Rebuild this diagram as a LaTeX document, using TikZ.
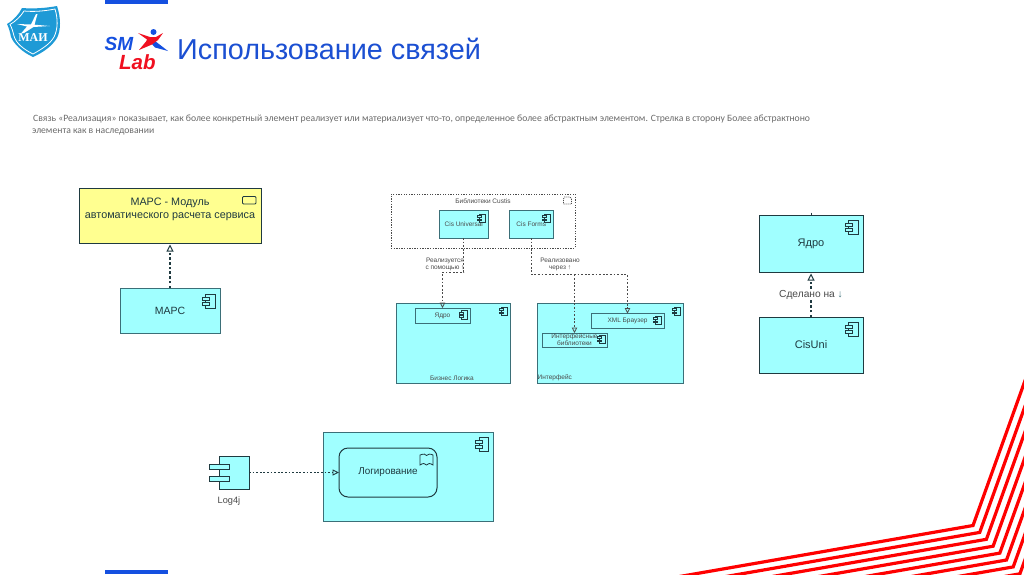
\documentclass[tikz,border=0pt]{standalone}
\usepackage{fontspec}
\setmainfont{Liberation Sans}
\newfontfamily\serifcap{Liberation Serif}
\newfontfamily\bodyfont{Carlito}
\usetikzlibrary{arrows.meta}
\definecolor{cyanfill}{HTML}{A0FFFF}
\definecolor{yellowfill}{HTML}{FFFF90}
\definecolor{edgeteal}{HTML}{3B6F78}
\definecolor{edgedark}{HTML}{1F3A40}
\definecolor{titleblue}{HTML}{1B4FD2}
\definecolor{barblue}{HTML}{1550E0}
\definecolor{logored}{HTML}{F01020}
\definecolor{stripered}{HTML}{FF0000}
\definecolor{shield}{HTML}{1E9AD6}
\definecolor{bodygray}{HTML}{6A6A6A}
\definecolor{labgray}{HTML}{4A4A4A}
\tikzset{
  box/.style={draw=edgeteal,fill=cyanfill,line width=1pt,inner sep=0pt,outer sep=0pt,align=center,font=\fontsize{10.5}{12}\selectfont,text=edgedark},
  darkbox/.style={box,draw=edgedark},
  smallbox/.style={box,font=\fontsize{6.5}{7.5}\selectfont,text=labgray},
  smalltext/.style={inner sep=0pt,align=center,font=\fontsize{6.5}{7.8}\selectfont,text=labgray},
  real/.style={draw=labgray,line width=1pt,dash pattern=on 1.8pt off 1.8pt,-{Triangle[open,length=5.5pt,width=5.5pt,line width=0.8pt,sep=0pt]}},
  bigreal/.style={draw=edgedark,line width=1.1pt,dash pattern=on 2.5pt off 2.2pt,shorten >=1.5pt,-{Triangle[open,length=7pt,width=7pt,line width=1pt,sep=0pt]}},
  compicon/.pic={
    \draw[edgedark,line width=0.8pt,fill=cyanfill] (-9.5,0) rectangle (0,14);
    \draw[edgedark,line width=0.8pt,fill=cyanfill] (-13,3) rectangle (-6,6);
    \draw[edgedark,line width=0.8pt,fill=cyanfill] (-13,8) rectangle (-6,11);
  }
}
\begin{document}
\begin{tikzpicture}[x=1pt,y=-1pt]
\useasboundingbox (0,0) rectangle (1024,574);
\fill[white] (0,0) rectangle (1024,574);
% red stripes
\begin{scope}
\clip (0,0) rectangle (1024,574);
\foreach \i in {0,...,9}{
  \draw[stripered,line width=3.2pt,miter limit=10,shift={(\i*6.7,\i*6.9)}] (625,586) -- (973,525.5) -- (1036,350);
}
\end{scope}
% bars
\fill[barblue] (105,0) rectangle (168,4);
\fill[barblue] (105,570) rectangle (168,574);
% MAI logo
\fill[shield] (7,24) .. controls (14,20) and (19,14) .. (22,8) .. controls (34,9) and (46,8) .. (57,6) .. controls (61,18) and (61,30) .. (57,38) .. controls (52,46) and (44,52) .. (33,57) .. controls (22,52) and (14,44) .. (11,37) .. controls (10,32) and (9,28) .. (7,24) -- cycle;
\draw[white,line width=0.8pt] (10,24.5) .. controls (16,21) and (21,16) .. (24,11) .. controls (34,12) and (45,11) .. (55,9) .. controls (58,19) and (58,29) .. (54,37) .. controls (50,44) and (42,49) .. (33,54) .. controls (23,49) and (16,43) .. (14,36) .. controls (13,32) and (12,28) .. (10,24.5) -- cycle;
\fill[white] (17,24) -- (31,24.5) -- (36,14) -- (37.5,14) -- (34.5,24.7) -- (50,26) -- (33.5,27) -- (24,33) -- (21,33.5) -- (27,26.5) -- cycle;
\node[inner sep=0pt,text=white,font=\serifcap\bfseries\fontsize{12}{12}\selectfont] (mai) at (33,38) {МАИ};
% SM Lab logo
\node[inner sep=0pt,anchor=base west,text=barblue,font=\bfseries\itshape\fontsize{19}{19}\selectfont] (sm) at (104.5,50) {SM};
\node[inner sep=0pt,anchor=base west,text=logored,font=\bfseries\itshape\fontsize{20.5}{20.5}\selectfont] (lab) at (119,69) {Lab};
\fill[barblue] (153.5,32) circle (3pt);
\fill[barblue] (151,43) -- (155,41) -- (168,51) -- (155,47.5) -- cycle;
\fill[logored] (138,33) -- (150,37) -- (156,37) -- (163,33) -- (158,40) -- (152,44.5) -- (139,50) -- (146,41.5) -- (147,39.5) -- cycle;
% title
\node[inner sep=0pt,anchor=base west,text=titleblue,font=\fontsize{28.8}{32}\selectfont] (title) at (177,59.5) {Использование связей};
% body text
\node[inner sep=0pt,anchor=base west,text=bodygray,font=\bodyfont\fontsize{9.67}{11}\selectfont] (body1) at (33,121) {Связь «Реализация» показывает, как более конкретный элемент реализует или материализует что-то, определенное более абстрактным элементом. Стрелка в сторону Более абстрактноно};
\node[inner sep=0pt,anchor=base west,text=bodygray,font=\bodyfont\fontsize{9.67}{11}\selectfont] (body2) at (32,133) {элемента как в наследовании};
% MARS
\node[darkbox,fill=yellowfill,minimum width=182pt,minimum height=55pt] (goal) at (170,215.5) {};
\node[inner sep=0pt,align=center,text=edgedark,font=\fontsize{10.8}{13}\selectfont] (goaltext) at (170,209.5) {МАРС - Модуль\\автоматического расчета сервиса};
\draw[edgedark,line width=0.9pt,rounded corners=1pt] (242.5,196.5) rectangle (256,204);
\node[box,minimum width=100pt,minimum height=45pt] (mars) at (170,310.5) {МАРС};
\pic at ([shift={(-5,6)}]mars.north east) {compicon};
\draw[bigreal] (mars.north) -- (goal.south);
% Libraries
\node[draw=labgray,line width=0.9pt,dash pattern=on 1.3pt off 1.3pt,minimum width=184pt,minimum height=54pt,inner sep=0pt] (libs) at (483,221) {};
\node[smalltext] (libscap) at (483,201.5) {Библиотеки Custis};
\draw[labgray,line width=0.7pt,dash pattern=on 1pt off 1pt] (563.5,199) -- (564.5,197) -- (570,197) -- (571.5,199) -- (571.5,204) -- (563.5,204) -- cycle;
\node[smallbox,minimum width=48.5pt,minimum height=28pt] (cu) at (463.75,224) {Cis Universal};
\pic[scale=0.62] at ([shift={(-3,4)}]cu.north east) {compicon};
\node[smallbox,minimum width=43.5pt,minimum height=28pt] (cf) at (531.25,224) {Cis Forms};
\pic[scale=0.62] at ([shift={(-3,4)}]cf.north east) {compicon};
% Business logic
\node[box,minimum width=114pt,minimum height=80pt] (biz) at (453,343) {};
\node[smalltext] (bizcap) at (452,378) {Бизнес Логика};
\pic[scale=0.62] at ([shift={(-3,4)}]biz.north east) {compicon};
\node[smallbox,minimum width=55pt,minimum height=15pt] (ya) at (442.5,315.5) {\raisebox{-1.5pt}{Ядро}};
\pic[scale=0.62] at ([shift={(-3,2.5)}]ya.north east) {compicon};
% Interface
\node[box,minimum width=146pt,minimum height=80pt] (iface) at (610,343) {};
\node[smalltext,anchor=west] (ifacecap) at (537.5,378) {Интерфейс};
\pic[scale=0.62] at ([shift={(-3,4)}]iface.north east) {compicon};
\node[smallbox,minimum width=73pt,minimum height=15pt] (xml) at (627.5,321) {\raisebox{-1.5pt}{XML Браузер}};
\pic[scale=0.62] at ([shift={(-3,2.5)}]xml.north east) {compicon};
\node[smallbox,minimum width=65pt,minimum height=14pt,font=\fontsize{6.5}{7}\selectfont] (il) at (574.5,340) {Интерфейсные\\библиотеки};
\pic[scale=0.62] at ([shift={(-2,2)}]il.north east) {compicon};
% connectors
\draw[real] (cu.south) -- ++(0,34) -| (ya.north);
\node[smalltext] (lbl1) at (445,264.5) {Реализуется\\с помощью ↑};
\draw[real] (cf.south) -- ++(0,36.5) -| (xml.north);
\coordinate (j) at (il.north |- 0,274.5);
\draw[real] (j) -- (il.north);
\node[smalltext] (lbl2) at (560,264.5) {Реализовано\\через ↑};
% Right pair
\node[darkbox,minimum width=104pt,minimum height=57pt,font=\fontsize{11}{13}\selectfont] (core) at (811,243.5) {\raisebox{-1pt}{Ядро}};
\pic at ([shift={(-5,5)}]core.north east) {compicon};
\coordinate (tick) at (core.north |- 0,212.5);
\draw[edgedark,line width=1pt] (tick) -- (core.north);
\node[darkbox,minimum width=104pt,minimum height=56pt,font=\fontsize{11}{13}\selectfont] (cis) at (811,345) {\raisebox{-1pt}{CisUni}};
\pic at ([shift={(-5,5)}]cis.north east) {compicon};
\draw[bigreal] (cis.north) -- (core.south);
\node[inner sep=1pt,fill=white,text=labgray,font=\fontsize{10.2}{12}\selectfont] (lbl3) at (811,294.5) {Сделано на \textcolor{edgeteal}{↓}};
% Log4j
\node[box,draw=edgedark,minimum width=30pt,minimum height=33pt] (logj) at (234,472.5) {};
\draw[edgedark,line width=1pt,fill=cyanfill] (209.5,464.5) rectangle (229.5,469.5);
\draw[edgedark,line width=1pt,fill=cyanfill] (209.5,476) rectangle (229.5,481);
\node[smalltext,font=\fontsize{9.2}{11}\selectfont] (logjcap) at (229,501.5) {Log4j};
\node[box,minimum width=170pt,minimum height=89pt] (logbox) at (408,476.5) {};
\pic at ([shift={(-4.5,5)}]logbox.north east) {compicon};
\node[box,draw=edgedark,rounded corners=9pt,minimum width=98pt,minimum height=49pt,font=\fontsize{9.9}{12}\selectfont] (logir) at (388,472.5) {\raisebox{-2.5pt}{Логирование}};
\draw[edgedark,line width=0.8pt,fill=cyanfill] (420,455) .. controls (424,453.5) and (425.5,454) .. (426.5,455.5) .. controls (428,454) and (430,453.5) .. (433,455) -- (433,465) .. controls (430,463) and (428,463) .. (426.5,465) .. controls (425,463) and (423,463) .. (420,465) -- cycle;
\draw[real,draw=edgedark,-{Triangle[open,length=6.5pt,width=6pt,line width=0.9pt,sep=0pt]}] (logj.east) -- (logir.west);
\end{tikzpicture}
\end{document}
